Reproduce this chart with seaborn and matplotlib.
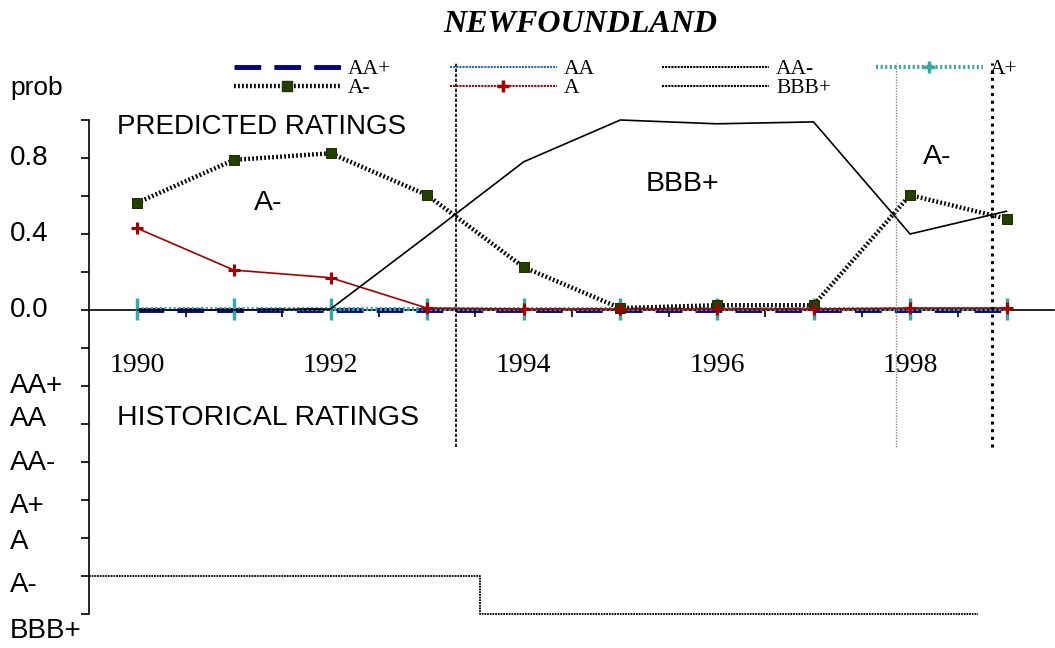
import numpy as np
import matplotlib.pyplot as plt
import seaborn as sns
from matplotlib.lines import Line2D
from matplotlib.font_manager import FontProperties

# --- data ---
years = [1990, 1991, 1992, 1993, 1994, 1995, 1996, 1997, 1998, 1999]
prob_aa_plus = [0.0, 0.0, 0.0, 0.0, 0.0, 0.0, 0.0, 0.0, 0.0, 0.0]
prob_aa = [0.0, 0.0, 0.0, 0.0, 0.0, 0.0, 0.0, 0.0, 0.0, 0.0]
prob_aa_minus = [0.0, 0.0, 0.0, 0.0, 0.0, 0.0, 0.0, 0.0, 0.0, 0.0]
prob_a_plus = [0.005, 0.005, 0.005, 0.005, 0.005, 0.005, 0.005, 0.005, 0.005, 0.005]
prob_a_minus = [0.565, 0.79, 0.825, 0.605, 0.225, 0.01, 0.025, 0.025, 0.605, 0.48]
prob_a = [0.43, 0.21, 0.17, 0.01, 0.005, 0.005, 0.005, 0.005, 0.01, 0.01]
prob_bbb_plus = [0.0, 0.0, 0.005, 0.39, 0.78, 1.0, 0.98, 0.99, 0.40, 0.52]

ratings = ["AA+", "AA", "AA-", "A+", "A", "A-", "BBB+"]
rating_levels = [-0.4, -0.6, -0.8, -1.0, -1.2, -1.4, -1.6]
rating_label_y = [-0.40, -0.575, -0.805, -1.03, -1.22, -1.45, -1.69]

hist_x = [1989.5, 1993.55, 1998.7]
hist_rating = ["A-", "BBB+", "BBB+"]

prob_ticks = [0.0, 0.4, 0.8]
prob_labels = ["0.0", "0.4", "0.8"]
year_ticks = [1990, 1992, 1994, 1996, 1998]

divider_years = [1993.3, 1997.85, 1998.85]
divider_span = (-0.72, 1.3)

# predicted rating labels in the upper panel
zone_labels = ["A-", "BBB+", "A-"]
zone_x = [1991.35, 1995.64, 1998.28]
zone_y = [0.563, 0.663, 0.805]

sns.set_style("white")
plt.rcParams["font.family"] = ["Liberation Sans", "DejaVu Sans"]
plt.rcParams["text.color"] = "black"
plt.rcParams["xtick.color"] = "black"
plt.rcParams["ytick.color"] = "black"
serif = "Liberation Serif"

fig = plt.figure(figsize=(10.55, 6.48), dpi=100)
ax = fig.add_axes([89 / 1055, 34 / 648, 966 / 1055, 494 / 648])
ax.set_xlim(1989.5, 1999.5)
ax.set_ylim(-1.6, 1.0)

# series: (label, values, plot style, legend style)
series = [
    ("AA+", prob_aa_plus,
     dict(color="#000080", lw=3.5, linestyle=(0, (5.5, 2.7))),
     dict(color="#000080", lw=3.5, linestyle=(0, (5.5, 2.7)))),
    ("AA", prob_aa,
     dict(color="#2c64a8", lw=1.5, linestyle=(0, (1, 0.5))),
     dict(color="#2c64a8", lw=1.5, linestyle=(0, (1, 0.5)))),
    ("AA-", prob_aa_minus,
     dict(color="black", lw=1.2, linestyle=(0, (1, 0.5))),
     dict(color="black", lw=1.5, linestyle=(0, (1, 0.5)))),
    ("A+", prob_a_plus,
     dict(color="#3aa6a6", lw=3, linestyle=(0, (0.5, 0.6)), marker="|",
          markersize=16, markeredgewidth=2.5, markeredgecolor="#3aa6a6"),
     dict(color="#3aa6a6", lw=3, linestyle=(0, (0.5, 0.6)), marker="+",
          markersize=8, markeredgewidth=2.5, markeredgecolor="#3aa6a6")),
    ("A-", prob_a_minus,
     dict(color="black", lw=3.2, linestyle=(0, (0.4, 0.5)), marker="s",
          markersize=6.5, markerfacecolor="#1f4200", markeredgecolor="#2e2a00"),
     dict(color="black", lw=3.2, linestyle=(0, (0.4, 0.5)), marker="s",
          markersize=7, markerfacecolor="#1f4200", markeredgecolor="#2e2a00")),
    ("A", prob_a,
     dict(color="#a00000", lw=1.2, marker="+", markersize=8,
          markeredgewidth=2.2, markeredgecolor="#a00000"),
     dict(color="#a00000", lw=1.5, linestyle=(0, (1, 0.5)), marker="+",
          markersize=9, markeredgewidth=2.5, markeredgecolor="#a00000")),
    ("BBB+", prob_bbb_plus,
     dict(color="black", lw=1.2),
     dict(color="black", lw=1.5, linestyle=(0, (1, 0.5)))),
]

handles = {}
for label, vals, pstyle, lstyle in series:
    sns.lineplot(x=years, y=vals, ax=ax, zorder=3, clip_on=False, **pstyle)
    handles[label] = Line2D([], [], **lstyle)

# historical ratings step line
hist_y = [rating_levels[ratings.index(r)] for r in hist_rating]
ax.step(hist_x, hist_y, where="post", color="black", lw=1.3,
        linestyle=(0, (1, 0.5)), clip_on=False)

# vertical dividers
ax.vlines(divider_years, divider_span[0], divider_span[1],
          colors=["black", "#888888", "black"],
          linestyles=[(0, (2, 1)), (0, (1, 1)), (0, (1, 1.5))],
          linewidths=[1.2, 1.0, 2.2], clip_on=False, zorder=4)

# axes styling
for side in ["top", "right"]:
    ax.spines[side].set_visible(False)
ax.spines["bottom"].set_position(("data", 0))
for side in ["left", "bottom"]:
    ax.spines[side].set_color("black")
    ax.spines[side].set_linewidth(1.2)
    ax.spines[side].set_linestyle((0, (1, 1)))

ax.set_yticks(np.arange(-1.6, 1.01, 0.2))
ax.set_yticklabels([])
ax.tick_params(axis="y", direction="out", length=6, width=1.2, color="black", left=True)

ax.set_xticks(year_ticks)
ax.set_xticklabels([str(y) for y in year_ticks], fontfamily=serif, fontsize=20)
ax.set_xticks(np.arange(1990.5, 1999, 1.0), minor=True)
ax.tick_params(axis="x", which="major", length=0, pad=31)
ax.tick_params(axis="x", which="minor", direction="out", length=5, width=1.2,
               color="black", bottom=True)

# y labels (left aligned)
ytr = ax.get_yaxis_transform()
lx = -79 / 966
for v, t in zip(prob_ticks, prob_labels):
    ax.text(lx, v, t, transform=ytr, ha="left", va="center", fontsize=20)
for r, v in zip(ratings, rating_label_y):
    ax.text(lx, v, r, transform=ytr, ha="left", va="center", fontsize=20,
            clip_on=False)
ax.text(lx, 1.168, "prob", transform=ytr, ha="left", va="center", fontsize=19)

ax.text(1989.79, 0.963, "PREDICTED RATINGS", ha="left", va="center", fontsize=20)
ax.text(1989.79, -0.568, "HISTORICAL RATINGS", ha="left", va="center", fontsize=20.5)
for t, x, y in zip(zone_labels, zone_x, zone_y):
    ax.text(x, y, t, ha="center", va="center", fontsize=20.5)

fig.text(0.55, 1 - 24 / 648, "NEWFOUNDLAND", ha="center", va="center",
         fontfamily=serif, fontweight="bold", fontstyle="italic", fontsize=23)

# legend, drawn as four two-row columns
legend_cols = [["AA+", "A-"], ["AA", "A"], ["AA-", "BBB+"], ["A+"]]
legend_x = [234, 450, 662, 876]
for col, x in zip(legend_cols, legend_x):
    fig.legend([handles[c] for c in col], col, loc="upper left",
               bbox_to_anchor=(x / 1055, 1 - 59 / 648), frameon=False,
               borderpad=0, borderaxespad=0, handlelength=4.95,
               handletextpad=0.35, labelspacing=-0.05,
               prop=FontProperties(family=serif, size=15.5))

fig.savefig("out.png", dpi=100)
